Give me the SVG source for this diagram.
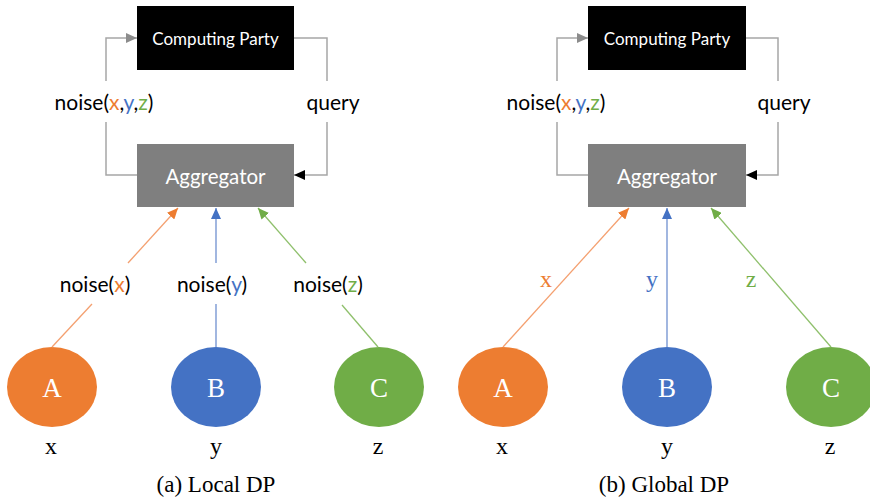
<svg xmlns="http://www.w3.org/2000/svg" width="870" height="500" viewBox="0 0 870 500">
<defs>
<style>
.sans{font-family:Lato,"Open Sans","Liberation Sans",sans-serif}
.serif{font-family:"Liberation Serif","Times New Roman",serif}
.loop{fill:none;stroke:#a6a6a6;stroke-width:1.5}
.or{stroke:#f4a070;stroke-width:1.3;fill:none}
.bl{stroke:#6f90d0;stroke-width:1.3;fill:none}
.gr{stroke:#8fc06c;stroke-width:1.3;fill:none}
.lbl{font-size:21px;fill:#000;text-anchor:middle}
.node{font-size:27px;fill:#fff;text-anchor:middle}
.var{font-size:24px;fill:#000;text-anchor:middle}
.cap{font-size:23px;fill:#000;text-anchor:middle}
</style>
<marker id="mGray" markerUnits="userSpaceOnUse" markerWidth="11" markerHeight="10" refX="11" refY="5" orient="auto"><path d="M0,0 L11,5 L0,10 z" fill="#8c8c8c"/></marker>
<marker id="mBlack" markerUnits="userSpaceOnUse" markerWidth="11" markerHeight="10" refX="11" refY="5" orient="auto"><path d="M0,0 L11,5 L0,10 z" fill="#000"/></marker>
<marker id="mOr" markerUnits="userSpaceOnUse" markerWidth="11" markerHeight="10" refX="11" refY="5" orient="auto"><path d="M0,0 L11,5 L0,10 z" fill="#ED7D31"/></marker>
<marker id="mBl" markerUnits="userSpaceOnUse" markerWidth="11" markerHeight="10" refX="11" refY="5" orient="auto"><path d="M0,0 L11,5 L0,10 z" fill="#4472C4"/></marker>
<marker id="mGr" markerUnits="userSpaceOnUse" markerWidth="11" markerHeight="10" refX="11" refY="5" orient="auto"><path d="M0,0 L11,5 L0,10 z" fill="#70AD47"/></marker>
</defs>
<rect width="870" height="500" fill="#fff"/>

<!-- Panel (a) -->
<g id="a-computing-party">
<rect x="137" y="6" width="157" height="64" fill="#000"/>
<text class="sans" x="215.5" y="44.5" font-size="17" fill="#fff" text-anchor="middle">Computing Party</text>
</g>
<g id="a-aggregator">
<rect x="137" y="144" width="157" height="63" fill="#7f7f7f"/>
<text class="sans" x="215.5" y="183.5" font-size="20.5" fill="#fff" text-anchor="middle">Aggregator</text>
</g>
<g id="a-node-A">
<ellipse cx="52" cy="387" rx="45" ry="40" fill="#ED7D31"/>
<text class="serif node" x="52" y="397">A</text>
<text class="serif var" x="51" y="454">x</text>
</g>
<g id="a-node-B">
<ellipse cx="216" cy="387" rx="45" ry="40" fill="#4472C4"/>
<text class="serif node" x="216" y="397">B</text>
<text class="serif var" x="216" y="454">y</text>
</g>
<g id="a-node-C">
<ellipse cx="379" cy="387" rx="45" ry="40" fill="#70AD47"/>
<text class="serif node" x="379" y="397">C</text>
<text class="serif var" x="378" y="454">z</text>
</g>
<g id="a-connectors">
<polyline class="loop" points="137,175 106,175 106,122"/>
<polyline class="loop" points="106,81 106,38 137,38" marker-end="url(#mGray)"/>
<polyline class="loop" points="294,38 327,38 327,81"/>
<polyline class="loop" points="327,122 327,175 294,175" marker-end="url(#mBlack)"/>
<line class="or" x1="52" y1="347" x2="92" y2="304"/>
<line class="or" x1="128" y1="263" x2="178" y2="208" marker-end="url(#mOr)"/>
<line class="bl" x1="216" y1="347" x2="216" y2="304"/>
<line class="bl" x1="216" y1="263" x2="216" y2="208" marker-end="url(#mBl)"/>
<line class="gr" x1="378" y1="347" x2="342" y2="305"/>
<line class="gr" x1="306" y1="263" x2="258" y2="208" marker-end="url(#mGr)"/>
</g>
<g id="a-labels">
<text class="sans lbl" x="104" y="110">noise(<tspan fill="#ED7D31">x</tspan>,<tspan fill="#4472C4">y</tspan>,<tspan fill="#70AD47">z</tspan>)</text>
<text class="sans lbl" x="333" y="110">query</text>
<text class="sans lbl" x="95" y="292">noise(<tspan fill="#ED7D31">x</tspan>)</text>
<text class="sans lbl" x="212" y="292">noise(<tspan fill="#4472C4">y</tspan>)</text>
<text class="sans lbl" x="328" y="292">noise(<tspan fill="#70AD47">z</tspan>)</text>
<text class="serif cap" x="216" y="492">(a) Local DP</text>
</g>

<!-- Panel (b) -->
<g id="b-computing-party">
<rect x="588" y="6" width="158" height="64" fill="#000"/>
<text class="sans" x="667" y="44.5" font-size="17" fill="#fff" text-anchor="middle">Computing Party</text>
</g>
<g id="b-aggregator">
<rect x="588" y="144" width="158" height="63" fill="#7f7f7f"/>
<text class="sans" x="667" y="183.5" font-size="20.5" fill="#fff" text-anchor="middle">Aggregator</text>
</g>
<g id="b-node-A">
<ellipse cx="503" cy="387" rx="45" ry="40" fill="#ED7D31"/>
<text class="serif node" x="503" y="397">A</text>
<text class="serif var" x="502" y="454">x</text>
</g>
<g id="b-node-B">
<ellipse cx="667" cy="387" rx="45" ry="40" fill="#4472C4"/>
<text class="serif node" x="667" y="397">B</text>
<text class="serif var" x="667" y="454">y</text>
</g>
<g id="b-node-C">
<ellipse cx="831" cy="387" rx="45" ry="40" fill="#70AD47"/>
<text class="serif node" x="831" y="397">C</text>
<text class="serif var" x="830" y="454">z</text>
</g>
<g id="b-connectors">
<polyline class="loop" points="588,175 557,175 557,122"/>
<polyline class="loop" points="557,81 557,38 588,38" marker-end="url(#mGray)"/>
<polyline class="loop" points="746,38 778,38 778,81"/>
<polyline class="loop" points="778,122 778,175 746,175" marker-end="url(#mBlack)"/>
<line class="or" x1="503" y1="347" x2="629" y2="208" marker-end="url(#mOr)"/>
<line class="bl" x1="667" y1="347" x2="667" y2="208" marker-end="url(#mBl)"/>
<line class="gr" x1="831" y1="347" x2="711" y2="208" marker-end="url(#mGr)"/>
</g>
<g id="b-labels">
<text class="sans lbl" x="556" y="110">noise(<tspan fill="#ED7D31">x</tspan>,<tspan fill="#4472C4">y</tspan>,<tspan fill="#70AD47">z</tspan>)</text>
<text class="sans lbl" x="784" y="110">query</text>
<text class="serif" x="546" y="287" font-size="24" text-anchor="middle" fill="#ED7D31">x</text>
<text class="serif" x="652" y="287" font-size="24" text-anchor="middle" fill="#4472C4">y</text>
<text class="serif" x="751" y="287" font-size="24" text-anchor="middle" fill="#70AD47">z</text>
<text class="serif cap" x="664" y="492">(b) Global DP</text>
</g>
</svg>
